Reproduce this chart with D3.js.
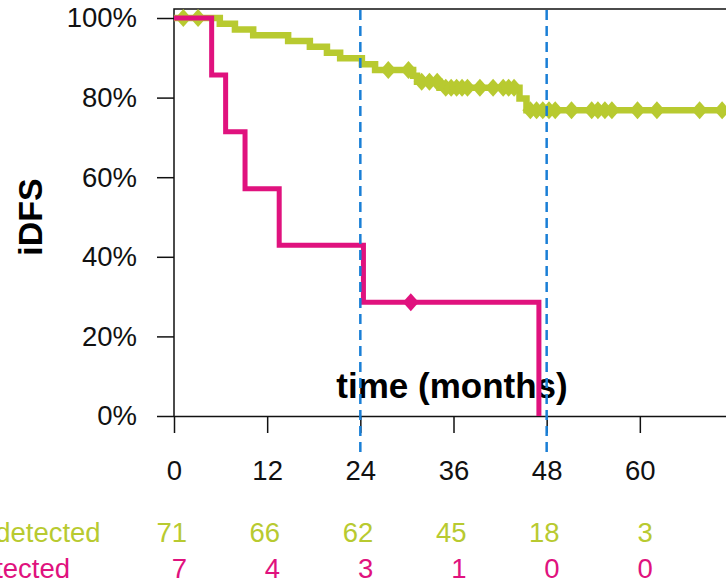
<!DOCTYPE html>
<html>
<head>
<meta charset="utf-8">
<script src="https://cdn.jsdelivr.net/npm/d3@7"></script>
<style>
  body { margin: 0; background: #fff; }
  svg { display: block; font-family: "Liberation Sans", Arial, sans-serif; }
</style>
</head>
<body>
<svg width="726" height="581"></svg>
<script>
// months shown on the axis and in the risk table
const tickMonths = [0, 12, 24, 36, 48, 60];
const yTicks = [0, 0.2, 0.4, 0.6, 0.8, 1];

// ctDNA undetected (green) step curve
const undetTime = [0, 5.9, 7.85, 10.2, 14.7, 17.5, 19.7, 21.4, 24.2, 25.9, 30.8, 31.3, 34.2, 44.5, 45.4, 72];
const undetSurv = [1, 0.9855, 0.971, 0.9565, 0.942, 0.9275, 0.913, 0.8986, 0.8841, 0.8696, 0.8549, 0.8401, 0.8245, 0.798, 0.768, 0.768];
const undetCensor = [1.2, 3.1, 27.6, 30.2, 31.9, 32.9, 33.9, 35.0, 35.7, 36.4, 37.1, 37.8, 39.4, 41.1, 42.4, 43.1, 43.8,
  45.9, 46.7, 47.5, 48.3, 49.1, 51.2, 53.8, 54.6, 55.5, 56.4, 59.7, 62.2, 67.7, 70.6];

// ctDNA detected (magenta) step curve
const detTime = [0, 4.85, 6.65, 9.15, 13.55, 24.4, 47.0];
const detSurv = [1, 0.857, 0.714, 0.571, 0.429, 0.286, 0];
const detCensor = [30.5];

// numbers at risk
const undetRisk = [71, 66, 62, 45, 18, 3];
const detRisk = [7, 4, 3, 1, 0, 0];

// landmark lines
const landmarks = [24, 48];

const green = "#b8ca30";
const magenta = "#e0127e";
const blue = "#1a7fd6";

const svg = d3.select("svg");

const x = d3.scaleLinear().domain([0, 72]).range([174, 733]);
const y = d3.scaleLinear().domain([0, 1]).range([416, 18]);

// frame: top and left
svg.append("path")
  .attr("d", `M${x(0)},416V9H726`)
  .attr("fill", "none")
  .attr("stroke", "#111")
  .attr("stroke-width", 1.5);

const yAxis = svg.append("g")
  .attr("transform", `translate(${x(0)},0)`)
  .call(d3.axisLeft(y).tickValues(yTicks).tickSize(17).tickSizeOuter(0).tickFormat(d3.format(".0%")));
yAxis.select(".domain").remove();
yAxis.selectAll("line").attr("stroke", "#111").attr("stroke-width", 1.5);
yAxis.selectAll("text")
  .attr("x", -37)
  .attr("fill", "#111")
  .style("font-size", "27.5px");

const xAxis = svg.append("g")
  .attr("transform", "translate(0,416)")
  .call(d3.axisBottom(x).tickValues(tickMonths).tickSize(17).tickSizeOuter(0));
xAxis.select(".domain").attr("stroke", "#111").attr("stroke-width", 1.5);
xAxis.selectAll("line").attr("stroke", "#111").attr("stroke-width", 1.5);
xAxis.selectAll("text")
  .attr("y", 64)
  .attr("dy", 0)
  .attr("fill", "#111")
  .style("font-size", "27.5px");

svg.append("text")
  .attr("transform", "translate(42,217) rotate(-90)")
  .attr("text-anchor", "middle")
  .style("font-size", "34px")
  .style("font-weight", "bold")
  .text("iDFS");

svg.append("text")
  .attr("x", 452)
  .attr("y", 398)
  .attr("text-anchor", "middle")
  .style("font-size", "35px")
  .style("font-weight", "bold")
  .text("time (months)");

const stepLine = d3.line()
  .x(d => x(d[0]))
  .y(d => y(d[1]))
  .curve(d3.curveStepAfter);

const diamond = "M0,-9L8,0L0,9L-8,0Z";

function survAt(times, surv, t) {
  const i = d3.bisectRight(times, t) - 1;
  return surv[Math.max(0, i)];
}

// green
svg.append("path")
  .datum(d3.zip(undetTime, undetSurv))
  .attr("d", stepLine)
  .attr("fill", "none")
  .attr("stroke", green)
  .attr("stroke-width", 6.5);

svg.selectAll("path.undetCensor")
  .data(undetCensor)
  .enter()
  .append("path")
  .attr("class", "undetCensor")
  .attr("d", diamond)
  .attr("fill", green)
  .attr("transform", d => `translate(${x(d)},${y(survAt(undetTime, undetSurv, d))})`);

// magenta
svg.append("path")
  .datum(d3.zip(detTime, detSurv))
  .attr("d", stepLine)
  .attr("fill", "none")
  .attr("stroke", magenta)
  .attr("stroke-width", 5);

svg.selectAll("path.detCensor")
  .data(detCensor)
  .enter()
  .append("path")
  .attr("class", "detCensor")
  .attr("d", diamond)
  .attr("fill", magenta)
  .attr("transform", d => `translate(${x(d)},${y(survAt(detTime, detSurv, d))})`);

// landmark dashed lines
svg.selectAll("line.landmark")
  .data(landmarks)
  .enter()
  .append("line")
  .attr("class", "landmark")
  .attr("x1", d => x(d))
  .attr("x2", d => x(d))
  .attr("y1", 10)
  .attr("y2", 456)
  .attr("stroke", blue)
  .attr("stroke-width", 2.5)
  .attr("stroke-dasharray", "10,6");

// risk table
const rows = [
  { label: "Undetected", values: undetRisk, color: green, y: 542 },
  { label: "Detected", values: detRisk, color: magenta, y: 578 }
];

rows.forEach(r => {
  svg.append("text")
    .attr("x", -40)
    .attr("y", r.y)
    .attr("fill", r.color)
    .style("font-size", "27.5px")
    .text(r.label);
  svg.selectAll(null)
    .data(r.values)
    .enter()
    .append("text")
    .attr("x", (d, i) => x(tickMonths[i]) + 13)
    .attr("y", r.y)
    .attr("text-anchor", "end")
    .attr("fill", r.color)
    .style("font-size", "27.5px")
    .text(d => d);
});
</script>
</body>
</html>
